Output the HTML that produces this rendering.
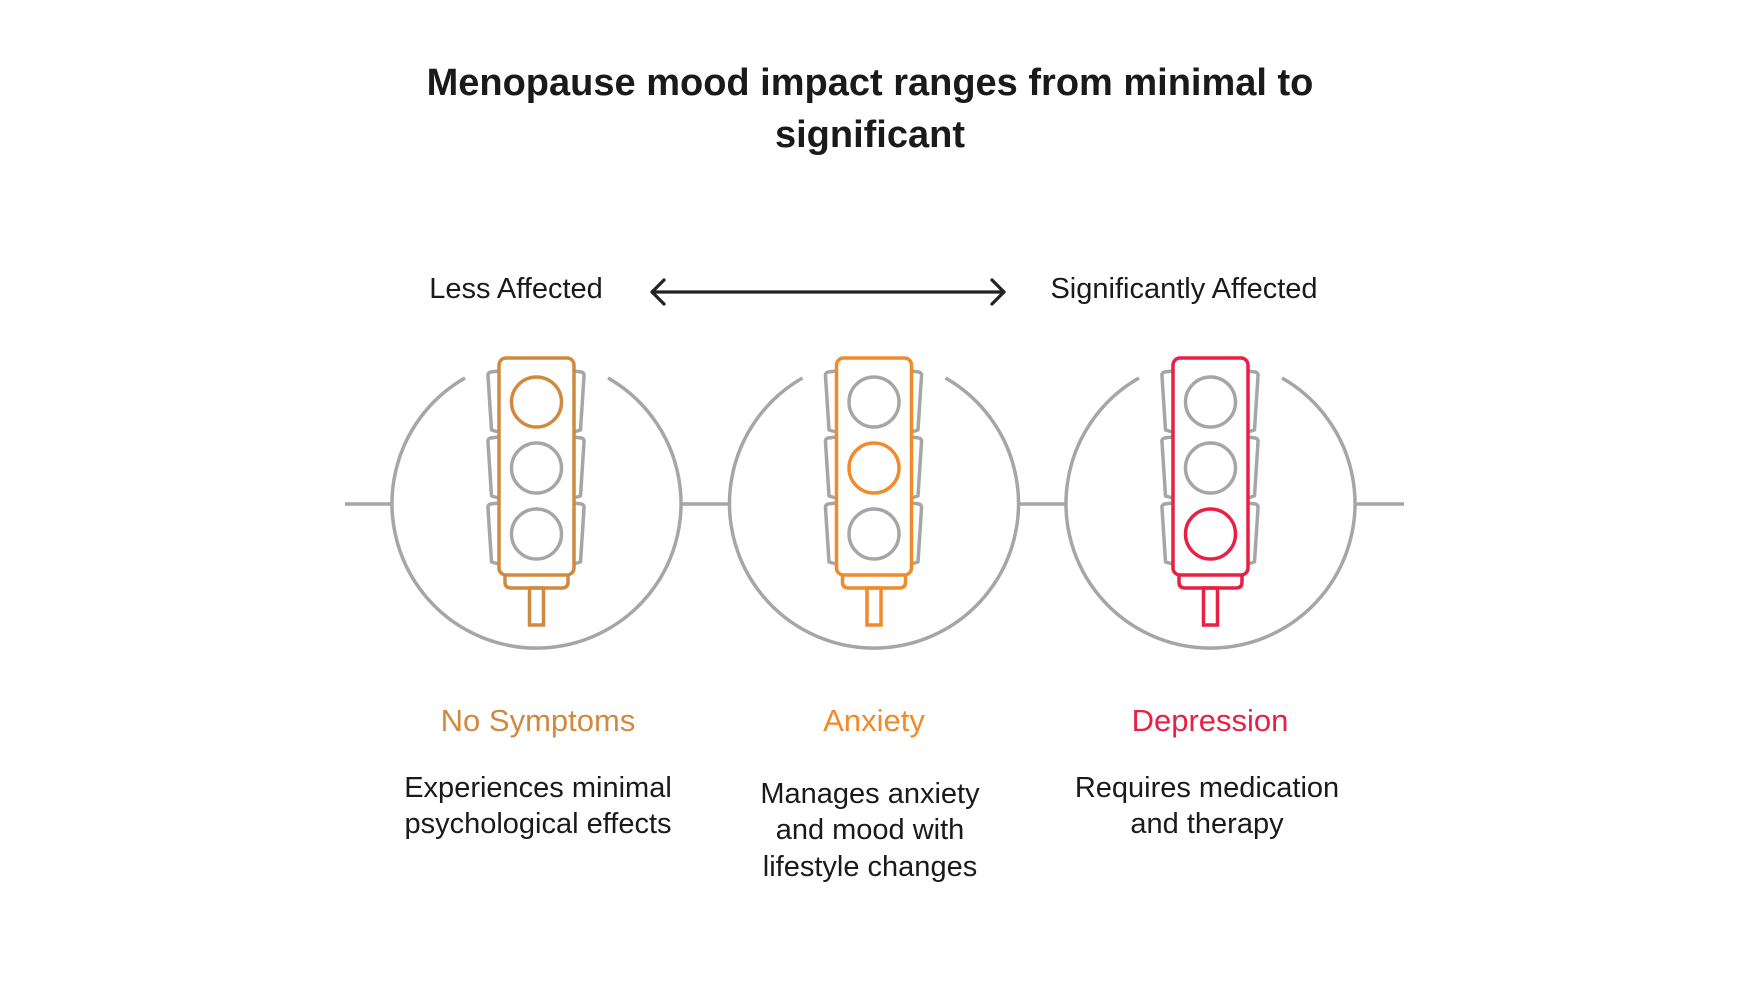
<!DOCTYPE html>
<html><head><meta charset="utf-8"><style>
body{margin:0;background:#fff;width:1750px;height:984px;overflow:hidden;font-family:"Liberation Sans",Arial,sans-serif;}
</style></head><body>
<svg width="1750" height="984" viewBox="0 0 1750 984" xmlns="http://www.w3.org/2000/svg" font-family="Liberation Sans, Arial, sans-serif">
<text x="870" y="95" text-anchor="middle" font-size="38" font-weight="bold" fill="#1a1a1a">Menopause mood impact ranges from minimal to</text>
<text x="870" y="147" text-anchor="middle" font-size="38" font-weight="bold" fill="#1a1a1a">significant</text>
<text x="516" y="298" text-anchor="middle" font-size="29" fill="#1a1a1a">Less Affected</text>
<text x="1184" y="298" text-anchor="middle" font-size="29" fill="#1a1a1a">Significantly Affected</text>
<g stroke="#222" stroke-width="3.2" fill="none" stroke-linecap="round" stroke-linejoin="round">
<line x1="652" y1="292" x2="1004" y2="292"/>
<polyline points="664,280 652,292 664,304"/>
<polyline points="992,280 1004,292 992,304"/>
</g>
<g stroke="#A6A6A6" stroke-width="3.5" fill="none">
<line x1="345" y1="504" x2="392" y2="504"/>
<line x1="681" y1="504" x2="730" y2="504"/>
<line x1="1019" y1="504" x2="1066" y2="504"/>
<line x1="1355" y1="504" x2="1404" y2="504"/>
</g>
<defs>
<g id="tl-gray">
<path d="M-71.5 378 A144.5 144.5 0 1 0 71.5 378" stroke="#A6A6A6" stroke-width="3.5" fill="none"/>
<g stroke="#A6A6A6" stroke-width="3.5" fill="none" stroke-linejoin="round">
<path d="M-38 371 L-46 372 Q-49 373 -48.5 376 L-45 430 L-38 432"/>
<path d="M-38 437 L-46 438 Q-49 439 -48.5 442 L-45 496 L-38 498"/>
<path d="M-38 503 L-46 504 Q-49 505 -48.5 508 L-45 562 L-38 564"/>
<path d="M37 371 L45 372 Q48 373 47.5 376 L44 430 L37 432"/>
<path d="M37 437 L45 438 Q48 439 47.5 442 L44 496 L37 498"/>
<path d="M37 503 L45 504 Q48 505 47.5 508 L44 562 L37 564"/>
</g>
</g>
</defs>
<g transform="translate(536.5,0)">
<use href="#tl-gray"/>
<g fill="none" stroke-width="3.5">
<rect x="-37.5" y="358" width="75" height="217" rx="7" stroke="#D08A40"/>
<circle cx="0" cy="402" r="25" stroke="#D08A40"/>
<circle cx="0" cy="468" r="25" stroke="#A6A6A6"/>
<circle cx="0" cy="534" r="25" stroke="#A6A6A6"/>
<path d="M-31.5 575 V582 Q-31.5 588 -25.5 588 H25.5 Q31.5 588 31.5 582 V575" stroke="#D08A40"/>
<rect x="-7" y="588" width="14" height="37" stroke="#D08A40"/>
</g>
</g>
<g transform="translate(874,0)">
<use href="#tl-gray"/>
<g fill="none" stroke-width="3.5">
<rect x="-37.5" y="358" width="75" height="217" rx="7" stroke="#F18A2A"/>
<circle cx="0" cy="402" r="25" stroke="#A6A6A6"/>
<circle cx="0" cy="468" r="25" stroke="#F18A2A"/>
<circle cx="0" cy="534" r="25" stroke="#A6A6A6"/>
<path d="M-31.5 575 V582 Q-31.5 588 -25.5 588 H25.5 Q31.5 588 31.5 582 V575" stroke="#F18A2A"/>
<rect x="-7" y="588" width="14" height="37" stroke="#F18A2A"/>
</g>
</g>
<g transform="translate(1210.5,0)">
<use href="#tl-gray"/>
<g fill="none" stroke-width="3.5">
<rect x="-37.5" y="358" width="75" height="217" rx="7" stroke="#EA1F44"/>
<circle cx="0" cy="402" r="25" stroke="#A6A6A6"/>
<circle cx="0" cy="468" r="25" stroke="#A6A6A6"/>
<circle cx="0" cy="534" r="25" stroke="#EA1F44"/>
<path d="M-31.5 575 V582 Q-31.5 588 -25.5 588 H25.5 Q31.5 588 31.5 582 V575" stroke="#EA1F44"/>
<rect x="-7" y="588" width="14" height="37" stroke="#EA1F44"/>
</g>
</g>
<text x="538" y="731" text-anchor="middle" font-size="31" fill="#D08A40">No Symptoms</text>
<text x="874" y="731" text-anchor="middle" font-size="31" fill="#F18A2A">Anxiety</text>
<text x="1210" y="731" text-anchor="middle" font-size="31" fill="#EA1F44">Depression</text>
<g font-size="29" fill="#1a1a1a" text-anchor="middle">
<text x="538" y="797">Experiences minimal</text>
<text x="538" y="833">psychological effects</text>
<text x="870" y="803">Manages anxiety</text>
<text x="870" y="839">and mood with</text>
<text x="870" y="876">lifestyle changes</text>
<text x="1207" y="797">Requires medication</text>
<text x="1207" y="833">and therapy</text>
</g>
</svg>
</body></html>
